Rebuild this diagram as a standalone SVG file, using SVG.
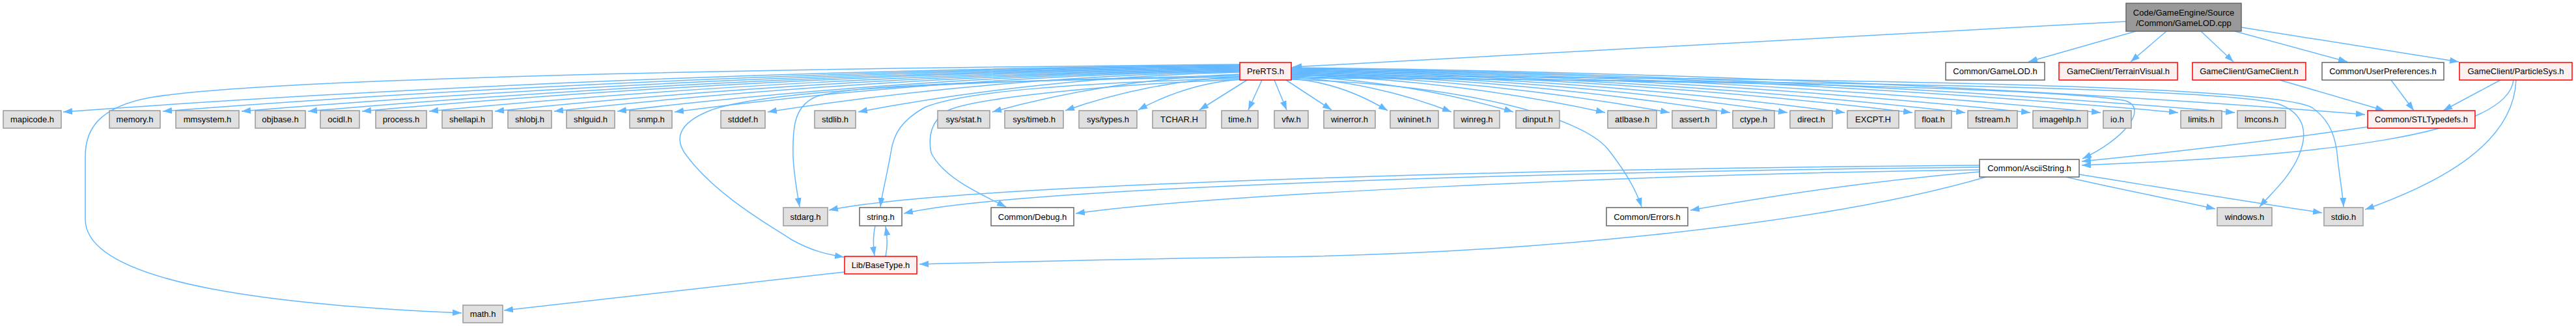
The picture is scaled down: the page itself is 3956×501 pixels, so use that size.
<svg xmlns="http://www.w3.org/2000/svg" width="3956" height="501" viewBox="0 0 3956 501">
<style>
.t{font-family:"Liberation Sans",Arial,sans-serif;font-size:13px;text-anchor:middle;fill:#000}
.g{fill:#e0e0e0;stroke:#999999;stroke-width:1.5}
.w{fill:#ffffff;stroke:#666666;stroke-width:1.5}
.r{fill:#fff0f0;stroke:#ff0000;stroke-width:1.5}
.k{fill:#999999;stroke:#666666;stroke-width:1.5}
.e{fill:none;stroke:#63b8ff;stroke-width:1.5;marker-end:url(#a)}
</style>
<defs>
<marker id="a" markerWidth="14" markerHeight="10" refX="14" refY="5" orient="auto" markerUnits="userSpaceOnUse"><path d="M0,0 L14,5 L0,10 z" fill="#63b8ff"/></marker>
</defs>
<rect width="3956" height="501" fill="#ffffff"/>
<g id="edges">
<path class="e" d="M3265,33 L1985,103"/>
<path class="e" d="M3280,48 L3115,95"/>
<path class="e" d="M3327,48 L3272,95"/>
<path class="e" d="M3380,48 L3430,95"/>
<path class="e" d="M3432,48 L3605,95"/>
<path class="e" d="M3442,42 L3776,95"/>
<path class="e" d="M1904,100 C1271.5,105.8 639.1,132.4 97,172"/>
<path class="e" d="M1904,101 C1325.1,106.6 746.2,132.5 250,171"/>
<path class="e" d="M1904,102 C1367.5,107.5 830.9,133.1 371,171"/>
<path class="e" d="M1904,103 C1403.2,108.4 902.3,133.6 473,171"/>
<path class="e" d="M1904,104 C1432.2,109.4 960.4,134.2 556,171"/>
<path class="e" d="M1904,105 C1468.3,110.3 1032.5,134.7 659,171"/>
<path class="e" d="M1904,106 C1503.6,111.2 1103.2,135.3 760,171"/>
<path class="e" d="M1904,107 C1535.5,112.1 1166.9,135.8 851,171"/>
<path class="e" d="M1904,108 C1569.4,113 1234.8,136.4 948,171"/>
<path class="e" d="M1904,109 C1600.2,114 1296.4,137.4 1036,172"/>
<path class="e" d="M1904,110 C1650.3,115 1396.5,137.9 1179,172"/>
<path class="e" d="M1904,111 C1698.9,115.9 1493.8,138.5 1318,172"/>
<path class="e" d="M1904,114 C1771,118.6 1638,140.1 1524,172"/>
<path class="e" d="M1904,118 C1810.2,122.2 1716.4,141.4 1636,170"/>
<path class="e" d="M1906,122 C1850.7,125.8 1795.4,143.2 1748,169"/>
<path class="e" d="M1915,123 L1842,169"/>
<path class="e" d="M1938,123 L1917,169"/>
<path class="e" d="M1957,123 L1976,169"/>
<path class="e" d="M1975,123 L2045,169"/>
<path class="e" d="M1983,121 C2034.8,124.9 2086.6,143.1 2131,170"/>
<path class="e" d="M1983,119 C2069.1,123.2 2155.2,142.9 2229,172"/>
<path class="e" d="M1983,117 C2102.4,121.4 2221.7,141.8 2324,172"/>
<path class="e" d="M1983,115 C2151.7,119.6 2320.4,141.1 2465,173"/>
<path class="e" d="M1983,114 C2186.4,118.7 2389.7,140.6 2564,173"/>
<path class="e" d="M1983,113 C2218.9,117.8 2454.8,140 2657,173"/>
<path class="e" d="M1983,112 C2249.7,116.9 2516.4,139.5 2745,173"/>
<path class="e" d="M1983,111 C2280.5,116 2578,138.9 2833,173"/>
<path class="e" d="M1983,110 C2316.9,115 2650.8,138.4 2937,173"/>
<path class="e" d="M1983,109 C2345.3,114.1 2707.5,137.8 3018,173"/>
<path class="e" d="M1983,108 C2380.3,113.2 2777.5,137.3 3118,173"/>
<path class="e" d="M1983,107 C2418.1,112.3 2853.1,136.7 3226,173"/>
<path class="e" d="M1983,106 C2459.7,111.4 2936.4,136.2 3345,173"/>
<path class="e" d="M1983,105 C2490.2,110.4 2997.3,135.6 3432,173"/>
<path class="e" d="M1983,104 C2560.2,109.8 3137.3,136.4 3632,176"/>
<path class="e" d="M1983,118 C2600,124 3160,135 3265,155 C3300,168 3260,215 3198,244"/>
<path class="e" d="M1983,120 C2800,124 3420,135 3500,160 C3540,175 3545,205 3530,240 C3515,275 3485,300 3470,318"/>
<path class="e" d="M1983,116 C2800,120 3480,130 3550,165 C3580,185 3588,215 3590,245 C3594,280 3598,300 3599,318"/>
<path class="e" d="M1983,122 C2250,130 2430,180 2470,230 C2495,262 2512,290 2521,318"/>
<path class="e" d="M1904,99 C1200,105 400,120 230,150 C150,165 131,200 131,240 L131,337 C131,440 450,470 709,481"/>
<path class="e" d="M1904,116 C1450,125 1170,140 1090,170 C1040,190 1035,215 1055,240 C1100,300 1180,345 1215,368 C1245,385 1270,391 1296,395"/>
<path class="e" d="M1904,118 C1500,125 1300,130 1250,150 C1220,165 1217,195 1218,240 C1219,270 1225,300 1228,318"/>
<path class="e" d="M1904,120 C1650,128 1480,140 1420,165 C1385,185 1372,205 1368,235 C1362,270 1354,300 1352,318"/>
<path class="e" d="M1906,122 C1700,130 1500,150 1455,170 C1430,185 1425,210 1430,235 C1450,275 1510,300 1545,318"/>
<path class="e" d="M3040,254 C2300,260 1450,285 1273,323"/>
<path class="e" d="M3040,257 C2300,265 1550,290 1388,328"/>
<path class="e" d="M3040,261 C2500,268 1850,300 1652,328"/>
<path class="e" d="M3040,264 C2850,280 2700,305 2596,323"/>
<path class="e" d="M3050,272 C2800,345 2350,390 1950,395 C1700,398 1500,404 1412,406"/>
<path class="e" d="M3173,272 C3250,290 3330,305 3402,321"/>
<path class="e" d="M3193,268 C3330,290 3450,310 3566,327"/>
<path class="e" d="M3636,195 C3500,215 3300,238 3197,248"/>
<path class="e" d="M3860,123 C3850,210 3550,240 3197,254"/>
<path class="e" d="M3840,123 L3752,170"/>
<path class="e" d="M3864,123 C3860,220 3750,280 3632,322"/>
<path class="e" d="M3501,123 L3662,170"/>
<path class="e" d="M3672,123 L3707,170"/>
<path class="e" d="M1344,347 C1340,365 1341,380 1343,393"/>
<path class="e" d="M1360,394 C1363,380 1363,365 1360,348"/>
<path class="e" d="M1297,418 L774,477"/>
</g>
<g id="root"><rect class="k" x="3265" y="5" width="177" height="43"/><text class="t" x="3353.5" y="24">Code/GameEngine/Source</text><text class="t" x="3353.5" y="40">/Common/GameLOD.cpp</text></g>
<g id="n_prerts"><rect class="r" x="1904" y="96" width="79" height="27"/><text class="t" x="1943.5" y="114">PreRTS.h</text></g>
<g id="n_gamelod"><rect class="w" x="2988" y="96" width="152" height="27"/><text class="t" x="3064" y="114">Common/GameLOD.h</text></g>
<g id="n_terrainvisual"><rect class="r" x="3162" y="96" width="182" height="27"/><text class="t" x="3253" y="114">GameClient/TerrainVisual.h</text></g>
<g id="n_gameclient"><rect class="r" x="3367" y="96" width="174" height="27"/><text class="t" x="3454" y="114">GameClient/GameClient.h</text></g>
<g id="n_userprefs"><rect class="w" x="3566" y="96" width="187" height="27"/><text class="t" x="3659.5" y="114">Common/UserPreferences.h</text></g>
<g id="n_particlesys"><rect class="r" x="3777" y="96" width="173" height="27"/><text class="t" x="3863.5" y="114">GameClient/ParticleSys.h</text></g>
<g id="n_mapicode"><rect class="g" x="5" y="170" width="89" height="27"/><text class="t" x="49.5" y="188">mapicode.h</text></g>
<g id="n_memory"><rect class="g" x="168" y="170" width="78" height="27"/><text class="t" x="207" y="188">memory.h</text></g>
<g id="n_mmsystem"><rect class="g" x="270" y="170" width="97" height="27"/><text class="t" x="318.5" y="188">mmsystem.h</text></g>
<g id="n_objbase"><rect class="g" x="392" y="170" width="77" height="27"/><text class="t" x="430.5" y="188">objbase.h</text></g>
<g id="n_ocidl"><rect class="g" x="492" y="170" width="60" height="27"/><text class="t" x="522" y="188">ocidl.h</text></g>
<g id="n_process"><rect class="g" x="577" y="170" width="78" height="27"/><text class="t" x="616" y="188">process.h</text></g>
<g id="n_shellapi"><rect class="g" x="679" y="170" width="77" height="27"/><text class="t" x="717.5" y="188">shellapi.h</text></g>
<g id="n_shlobj"><rect class="g" x="780" y="170" width="67" height="27"/><text class="t" x="813.5" y="188">shlobj.h</text></g>
<g id="n_shlguid"><rect class="g" x="870" y="170" width="74" height="27"/><text class="t" x="907" y="188">shlguid.h</text></g>
<g id="n_snmp"><rect class="g" x="967" y="170" width="65" height="27"/><text class="t" x="999.5" y="188">snmp.h</text></g>
<g id="n_stddef"><rect class="g" x="1107" y="170" width="68" height="27"/><text class="t" x="1141" y="188">stddef.h</text></g>
<g id="n_stdlib"><rect class="g" x="1251" y="170" width="63" height="27"/><text class="t" x="1282.5" y="188">stdlib.h</text></g>
<g id="n_sysstat"><rect class="g" x="1440" y="170" width="80" height="27"/><text class="t" x="1480" y="188">sys/stat.h</text></g>
<g id="n_systimeb"><rect class="g" x="1543" y="170" width="90" height="27"/><text class="t" x="1588" y="188">sys/timeb.h</text></g>
<g id="n_systypes"><rect class="g" x="1657" y="170" width="89" height="27"/><text class="t" x="1701.5" y="188">sys/types.h</text></g>
<g id="n_tchar"><rect class="g" x="1770" y="170" width="82" height="27"/><text class="t" x="1811" y="188">TCHAR.H</text></g>
<g id="n_time"><rect class="g" x="1876" y="170" width="56" height="27"/><text class="t" x="1904" y="188">time.h</text></g>
<g id="n_vfw"><rect class="g" x="1957" y="170" width="52" height="27"/><text class="t" x="1983" y="188">vfw.h</text></g>
<g id="n_winerror"><rect class="g" x="2033" y="170" width="79" height="27"/><text class="t" x="2072.5" y="188">winerror.h</text></g>
<g id="n_wininet"><rect class="g" x="2135" y="170" width="74" height="27"/><text class="t" x="2172" y="188">wininet.h</text></g>
<g id="n_winreg"><rect class="g" x="2233" y="170" width="70" height="27"/><text class="t" x="2268" y="188">winreg.h</text></g>
<g id="n_dinput"><rect class="g" x="2328" y="170" width="67" height="27"/><text class="t" x="2361.5" y="188">dinput.h</text></g>
<g id="n_atlbase"><rect class="g" x="2469" y="170" width="75" height="27"/><text class="t" x="2506.5" y="188">atlbase.h</text></g>
<g id="n_assert"><rect class="g" x="2568" y="170" width="68" height="27"/><text class="t" x="2602" y="188">assert.h</text></g>
<g id="n_ctype"><rect class="g" x="2661" y="170" width="64" height="27"/><text class="t" x="2693" y="188">ctype.h</text></g>
<g id="n_direct"><rect class="g" x="2749" y="170" width="65" height="27"/><text class="t" x="2781.5" y="188">direct.h</text></g>
<g id="n_excpt"><rect class="g" x="2837" y="170" width="79" height="27"/><text class="t" x="2876.5" y="188">EXCPT.H</text></g>
<g id="n_float"><rect class="g" x="2941" y="170" width="56" height="27"/><text class="t" x="2969" y="188">float.h</text></g>
<g id="n_fstream"><rect class="g" x="3022" y="170" width="76" height="27"/><text class="t" x="3060" y="188">fstream.h</text></g>
<g id="n_imagehlp"><rect class="g" x="3122" y="170" width="84" height="27"/><text class="t" x="3164" y="188">imagehlp.h</text></g>
<g id="n_io"><rect class="g" x="3230" y="170" width="43" height="27"/><text class="t" x="3251.5" y="188">io.h</text></g>
<g id="n_limits"><rect class="g" x="3349" y="170" width="63" height="27"/><text class="t" x="3380.5" y="188">limits.h</text></g>
<g id="n_lmcons"><rect class="g" x="3436" y="170" width="74" height="27"/><text class="t" x="3473" y="188">lmcons.h</text></g>
<g id="n_stltypedefs"><rect class="r" x="3636" y="170" width="165" height="27"/><text class="t" x="3718.5" y="188">Common/STLTypedefs.h</text></g>
<g id="n_asciistring"><rect class="w" x="3040" y="245" width="153" height="27"/><text class="t" x="3116.5" y="263">Common/AsciiString.h</text></g>
<g id="n_stdarg"><rect class="g" x="1203" y="319" width="68" height="28"/><text class="t" x="1237" y="337.5">stdarg.h</text></g>
<g id="n_string"><rect class="w" x="1320" y="319" width="65" height="28"/><text class="t" x="1352.5" y="337.5">string.h</text></g>
<g id="n_debug"><rect class="w" x="1522" y="319" width="127" height="28"/><text class="t" x="1585.5" y="337.5">Common/Debug.h</text></g>
<g id="n_errors"><rect class="w" x="2467" y="319" width="125" height="28"/><text class="t" x="2529.5" y="337.5">Common/Errors.h</text></g>
<g id="n_windows"><rect class="g" x="3405" y="319" width="84" height="28"/><text class="t" x="3447" y="337.5">windows.h</text></g>
<g id="n_stdio"><rect class="g" x="3569" y="319" width="60" height="28"/><text class="t" x="3599" y="337.5">stdio.h</text></g>
<g id="n_basetype"><rect class="r" x="1297" y="394" width="111" height="27"/><text class="t" x="1352.5" y="412">Lib/BaseType.h</text></g>
<g id="n_math"><rect class="g" x="711" y="469" width="61" height="27"/><text class="t" x="741.5" y="487">math.h</text></g>
</svg>
